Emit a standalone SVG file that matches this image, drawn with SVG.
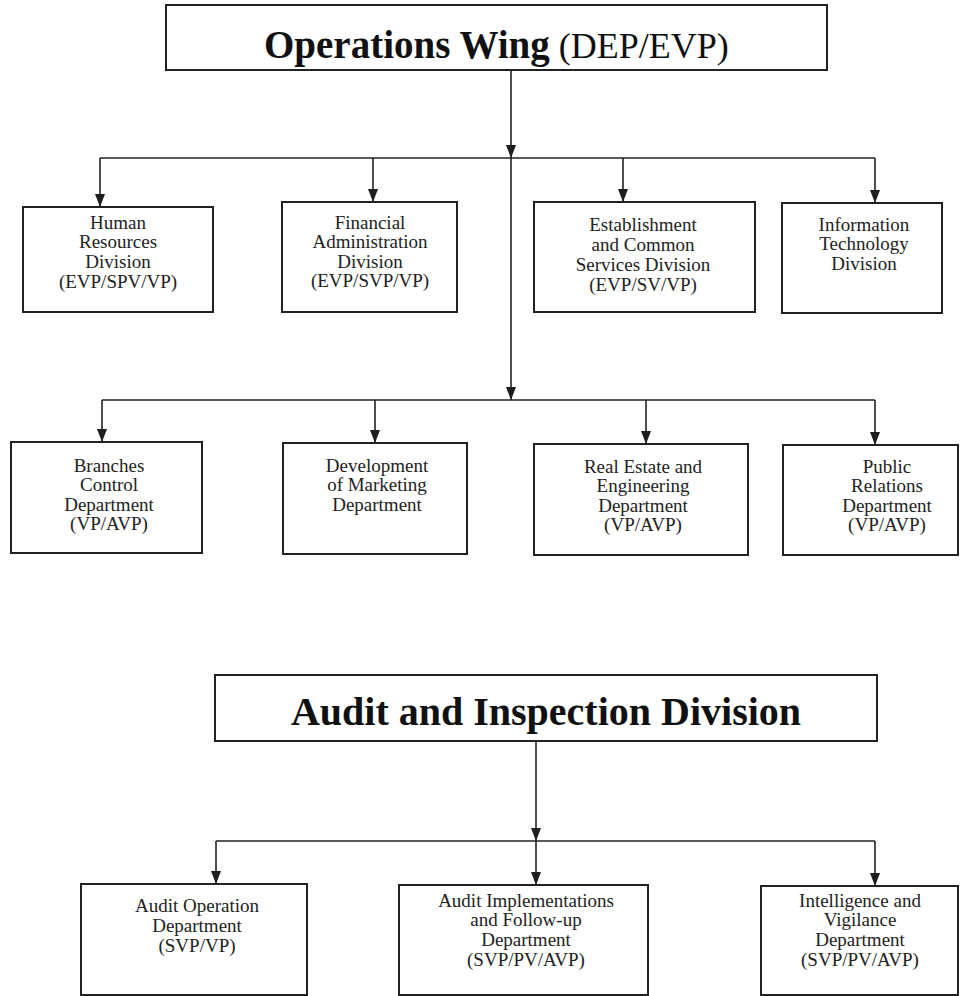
<svg xmlns="http://www.w3.org/2000/svg" width="960" height="996" viewBox="0 0 960 996">
<defs>
<marker id="ah" viewBox="0 0 13 10" refX="13" refY="5" markerWidth="13" markerHeight="10" markerUnits="userSpaceOnUse" orient="auto">
<path d="M0,0 L13,5 L0,10 z" fill="#1e1e1e"/>
</marker>
<style>
.box{fill:#fff;stroke:#222;stroke-width:2}
.ln{fill:none;stroke:#222;stroke-width:1.6}
.arr{fill:none;stroke:#222;stroke-width:1.6;marker-end:url(#ah)}
.t{font-family:"Liberation Serif","Times New Roman",serif;font-size:19px;fill:#222;text-anchor:middle}
.h{font-family:"Liberation Serif","Times New Roman",serif;fill:#111}
</style>
</defs>
<rect width="960" height="996" fill="#fff"/>

<g id="connectors">
<line class="arr" x1="511" y1="70" x2="511" y2="158"/>
<line class="ln" x1="511" y1="158" x2="511" y2="300"/>
<polyline class="ln" points="100,158 875,158"/>
<line class="arr" x1="100" y1="158" x2="100" y2="207"/>
<line class="arr" x1="373" y1="158" x2="373" y2="202"/>
<line class="arr" x1="623" y1="158" x2="623" y2="202"/>
<line class="arr" x1="875" y1="158" x2="875" y2="203"/>
<line class="arr" x1="511" y1="300" x2="511" y2="400"/>
<polyline class="ln" points="102,400 875,400"/>
<line class="arr" x1="102" y1="400" x2="102" y2="442"/>
<line class="arr" x1="375" y1="400" x2="375" y2="443"/>
<line class="arr" x1="646" y1="400" x2="646" y2="444"/>
<line class="arr" x1="875" y1="400" x2="875" y2="445"/>
<line class="arr" x1="536" y1="741" x2="536" y2="841"/>
<polyline class="ln" points="216,841 875,841"/>
<line class="arr" x1="216" y1="841" x2="216" y2="884"/>
<line class="arr" x1="536" y1="841" x2="536" y2="885"/>
<line class="arr" x1="875" y1="841" x2="875" y2="886"/>
</g>

<g id="operations-wing">
<rect class="box" x="166" y="5" width="661" height="65"/>
<text class="h" x="264" y="58" font-size="39"><tspan font-weight="bold">Operations Wing</tspan><tspan font-size="36"> (DEP/EVP)</tspan></text>
</g>

<g id="hr">
<rect class="box" x="23" y="207" width="190" height="105"/>
<text class="t"><tspan x="118" y="229">Human</tspan><tspan x="118" y="248">Resources</tspan><tspan x="118" y="268">Division</tspan><tspan x="118" y="288">(EVP/SPV/VP)</tspan></text>
</g>
<g id="fin">
<rect class="box" x="282" y="202" width="175" height="110"/>
<text class="t"><tspan x="370" y="229">Financial</tspan><tspan x="370" y="248">Administration</tspan><tspan x="370" y="268">Division</tspan><tspan x="370" y="287">(EVP/SVP/VP)</tspan></text>
</g>
<g id="estab">
<rect class="box" x="534" y="202" width="221" height="110"/>
<text class="t"><tspan x="643" y="231">Establishment</tspan><tspan x="643" y="251">and Common</tspan><tspan x="643" y="271">Services Division</tspan><tspan x="643" y="291">(EVP/SV/VP)</tspan></text>
</g>
<g id="it">
<rect class="box" x="782" y="203" width="160" height="110"/>
<text class="t"><tspan x="864" y="231">Information</tspan><tspan x="864" y="250">Technology</tspan><tspan x="864" y="270">Division</tspan></text>
</g>

<g id="branches">
<rect class="box" x="11" y="442" width="191" height="111"/>
<text class="t"><tspan x="109" y="472">Branches</tspan><tspan x="109" y="491">Control</tspan><tspan x="109" y="511">Department</tspan><tspan x="109" y="530">(VP/AVP)</tspan></text>
</g>
<g id="marketing">
<rect class="box" x="283" y="443" width="184" height="111"/>
<text class="t"><tspan x="377" y="472">Development</tspan><tspan x="377" y="491">of Marketing</tspan><tspan x="377" y="511">Department</tspan></text>
</g>
<g id="real-estate">
<rect class="box" x="534" y="444" width="214" height="111"/>
<text class="t"><tspan x="643" y="473">Real  Estate and</tspan><tspan x="643" y="492">Engineering</tspan><tspan x="643" y="512">Department</tspan><tspan x="643" y="531">(VP/AVP)</tspan></text>
</g>
<g id="public-relations">
<rect class="box" x="783" y="445" width="175" height="110"/>
<text class="t"><tspan x="887" y="473">Public</tspan><tspan x="887" y="492">Relations</tspan><tspan x="887" y="512">Department</tspan><tspan x="887" y="531">(VP/AVP)</tspan></text>
</g>

<g id="audit-division">
<rect class="box" x="215" y="675" width="662" height="66"/>
<text class="h" x="546" y="725" font-size="40" font-weight="bold" text-anchor="middle">Audit and Inspection Division</text>
</g>

<g id="audit-operation">
<rect class="box" x="81" y="884" width="226" height="111"/>
<text class="t"><tspan x="197" y="912">Audit Operation</tspan><tspan x="197" y="932">Department</tspan><tspan x="197" y="952">(SVP/VP)</tspan></text>
</g>
<g id="audit-implementations">
<rect class="box" x="399" y="885" width="249" height="110"/>
<text class="t"><tspan x="526" y="907">Audit Implementations</tspan><tspan x="526" y="926">and Follow-up</tspan><tspan x="526" y="946">Department</tspan><tspan x="526" y="966">(SVP/PV/AVP)</tspan></text>
</g>
<g id="intelligence">
<rect class="box" x="761" y="886" width="197" height="109"/>
<text class="t"><tspan x="860" y="907">Intelligence and</tspan><tspan x="860" y="926">Vigilance</tspan><tspan x="860" y="946">Department</tspan><tspan x="860" y="966">(SVP/PV/AVP)</tspan></text>
</g>
</svg>
